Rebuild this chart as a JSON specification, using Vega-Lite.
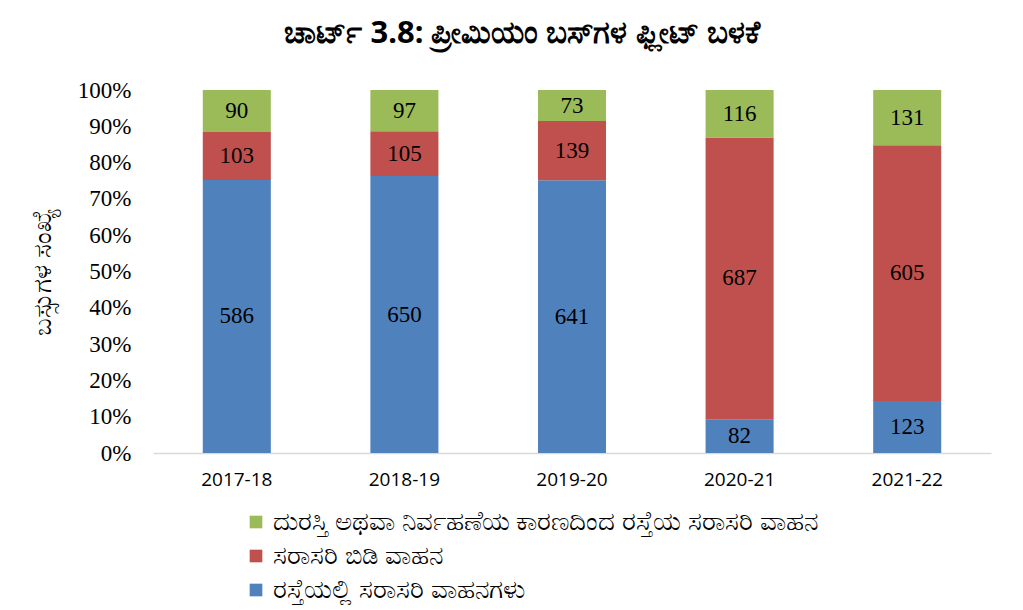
{
  "$schema": "https://vega.github.io/schema/vega-lite/v6.json",
  "autosize": {"type": "none"},
  "width": 838,
  "height": 363,
  "padding": {"left": 153, "top": 90, "right": 32, "bottom": 157},
  "background": "white",
  "title": {
    "text": "ಚಾರ್ಟ್ 3.8: ಪ್ರೀಮಿಯಂ ಬಸ್‌ಗಳ ಫ್ಲೀಟ್ ಬಳಕೆ",
    "font": "Noto Sans",
    "fontSize": 31,
    "fontWeight": "bold",
    "color": "#000000",
    "anchor": "middle",
    "dx": -50,
    "offset": 29
  },
  "data": {
    "values": [
      {"year": "2017-18", "series": "ರಸ್ತೆಯಲ್ಲಿ ಸರಾಸರಿ ವಾಹನಗಳು", "order": 1, "value": 586},
      {"year": "2017-18", "series": "ಸರಾಸರಿ ಬಿಡಿ ವಾಹನ", "order": 2, "value": 103},
      {"year": "2017-18", "series": "ದುರಸ್ತಿ ಅಥವಾ ನಿರ್ವಹಣೆಯ ಕಾರಣದಿಂದ ರಸ್ತೆಯ ಸರಾಸರಿ ವಾಹನ", "order": 3, "value": 90},
      {"year": "2018-19", "series": "ರಸ್ತೆಯಲ್ಲಿ ಸರಾಸರಿ ವಾಹನಗಳು", "order": 1, "value": 650},
      {"year": "2018-19", "series": "ಸರಾಸರಿ ಬಿಡಿ ವಾಹನ", "order": 2, "value": 105},
      {"year": "2018-19", "series": "ದುರಸ್ತಿ ಅಥವಾ ನಿರ್ವಹಣೆಯ ಕಾರಣದಿಂದ ರಸ್ತೆಯ ಸರಾಸರಿ ವಾಹನ", "order": 3, "value": 97},
      {"year": "2019-20", "series": "ರಸ್ತೆಯಲ್ಲಿ ಸರಾಸರಿ ವಾಹನಗಳು", "order": 1, "value": 641},
      {"year": "2019-20", "series": "ಸರಾಸರಿ ಬಿಡಿ ವಾಹನ", "order": 2, "value": 139},
      {"year": "2019-20", "series": "ದುರಸ್ತಿ ಅಥವಾ ನಿರ್ವಹಣೆಯ ಕಾರಣದಿಂದ ರಸ್ತೆಯ ಸರಾಸರಿ ವಾಹನ", "order": 3, "value": 73},
      {"year": "2020-21", "series": "ರಸ್ತೆಯಲ್ಲಿ ಸರಾಸರಿ ವಾಹನಗಳು", "order": 1, "value": 82},
      {"year": "2020-21", "series": "ಸರಾಸರಿ ಬಿಡಿ ವಾಹನ", "order": 2, "value": 687},
      {"year": "2020-21", "series": "ದುರಸ್ತಿ ಅಥವಾ ನಿರ್ವಹಣೆಯ ಕಾರಣದಿಂದ ರಸ್ತೆಯ ಸರಾಸರಿ ವಾಹನ", "order": 3, "value": 116},
      {"year": "2021-22", "series": "ರಸ್ತೆಯಲ್ಲಿ ಸರಾಸರಿ ವಾಹನಗಳು", "order": 1, "value": 123},
      {"year": "2021-22", "series": "ಸರಾಸರಿ ಬಿಡಿ ವಾಹನ", "order": 2, "value": 605},
      {"year": "2021-22", "series": "ದುರಸ್ತಿ ಅಥವಾ ನಿರ್ವಹಣೆಯ ಕಾರಣದಿಂದ ರಸ್ತೆಯ ಸರಾಸರಿ ವಾಹನ", "order": 3, "value": 131}
    ]
  },
  "transform": [
    {"stack": "value", "groupby": ["year"], "sort": [{"field": "order", "order": "ascending"}], "offset": "normalize", "as": ["y0", "y1"]},
    {"calculate": "(datum.y0 + datum.y1) / 2", "as": "mid"}
  ],
  "encoding": {
    "x": {
      "field": "year",
      "type": "nominal",
      "sort": null,
      "scale": {"paddingInner": 0.594, "paddingOuter": 0.297},
      "axis": {
        "title": null,
        "labelAngle": 0,
        "labelFont": "Open Sans",
        "labelFontSize": 19,
        "labelColor": "#000000",
        "labelPadding": 17,
        "ticks": false,
        "domainColor": "#d9d9d9",
        "domainWidth": 1.5,
        "grid": false
      }
    }
  },
  "layer": [
    {
      "mark": {"type": "bar"},
      "encoding": {
        "y": {
          "field": "y0",
          "type": "quantitative",
          "scale": {"domain": [0, 1]},
          "axis": {
            "title": "ಬಸ್ಸುಗಳ ಸಂಖ್ಯೆ",
            "format": ".0%",
            "values": [0, 0.1, 0.2, 0.3, 0.4, 0.5, 0.6, 0.7, 0.8, 0.9, 1],
            "labelOverlap": false
          }
        },
        "y2": {"field": "y1"},
        "color": {
          "field": "series",
          "type": "nominal",
          "scale": {
            "domain": ["ದುರಸ್ತಿ ಅಥವಾ ನಿರ್ವಹಣೆಯ ಕಾರಣದಿಂದ ರಸ್ತೆಯ ಸರಾಸರಿ ವಾಹನ", "ಸರಾಸರಿ ಬಿಡಿ ವಾಹನ", "ರಸ್ತೆಯಲ್ಲಿ ಸರಾಸರಿ ವಾಹನಗಳು"],
            "range": ["#9BBB59", "#C0504D", "#4F81BD"]
          },
          "legend": {
            "title": null,
            "orient": "none",
            "legendX": 90,
            "legendY": 419,
            "direction": "vertical",
            "symbolType": "square",
            "symbolSize": 160,
            "symbolStrokeWidth": 0,
            "labelFont": "Noto Sans",
            "labelFontSize": 26,
            "labelColor": "#000000",
            "labelLimit": 900,
            "rowPadding": 8,
            "labelOffset": 4
          }
        }
      }
    },
    {
      "mark": {"type": "text", "font": "Liberation Serif", "fontSize": 23, "color": "#000000", "baseline": "middle"},
      "encoding": {
        "y": {
          "field": "mid",
          "type": "quantitative",
          "axis": {
            "title": "ಬಸ್ಸುಗಳ ಸಂಖ್ಯೆ",
            "format": ".0%",
            "values": [0, 0.1, 0.2, 0.3, 0.4, 0.5, 0.6, 0.7, 0.8, 0.9, 1],
            "labelOverlap": false
          }
        },
        "text": {"field": "value", "type": "quantitative"}
      }
    }
  ],
  "config": {
    "view": {"stroke": null},
    "axisY": {
      "titleFont": "Noto Sans",
      "titleFontSize": 26,
      "titleFontWeight": "normal",
      "titleColor": "#000000",
      "titlePadding": 22,
      "labelOverlap": false,
      "labelFont": "Liberation Serif",
      "labelFontSize": 23,
      "labelColor": "#000000",
      "labelPadding": 22,
      "ticks": false,
      "domain": false,
      "grid": false
    }
  }
}
